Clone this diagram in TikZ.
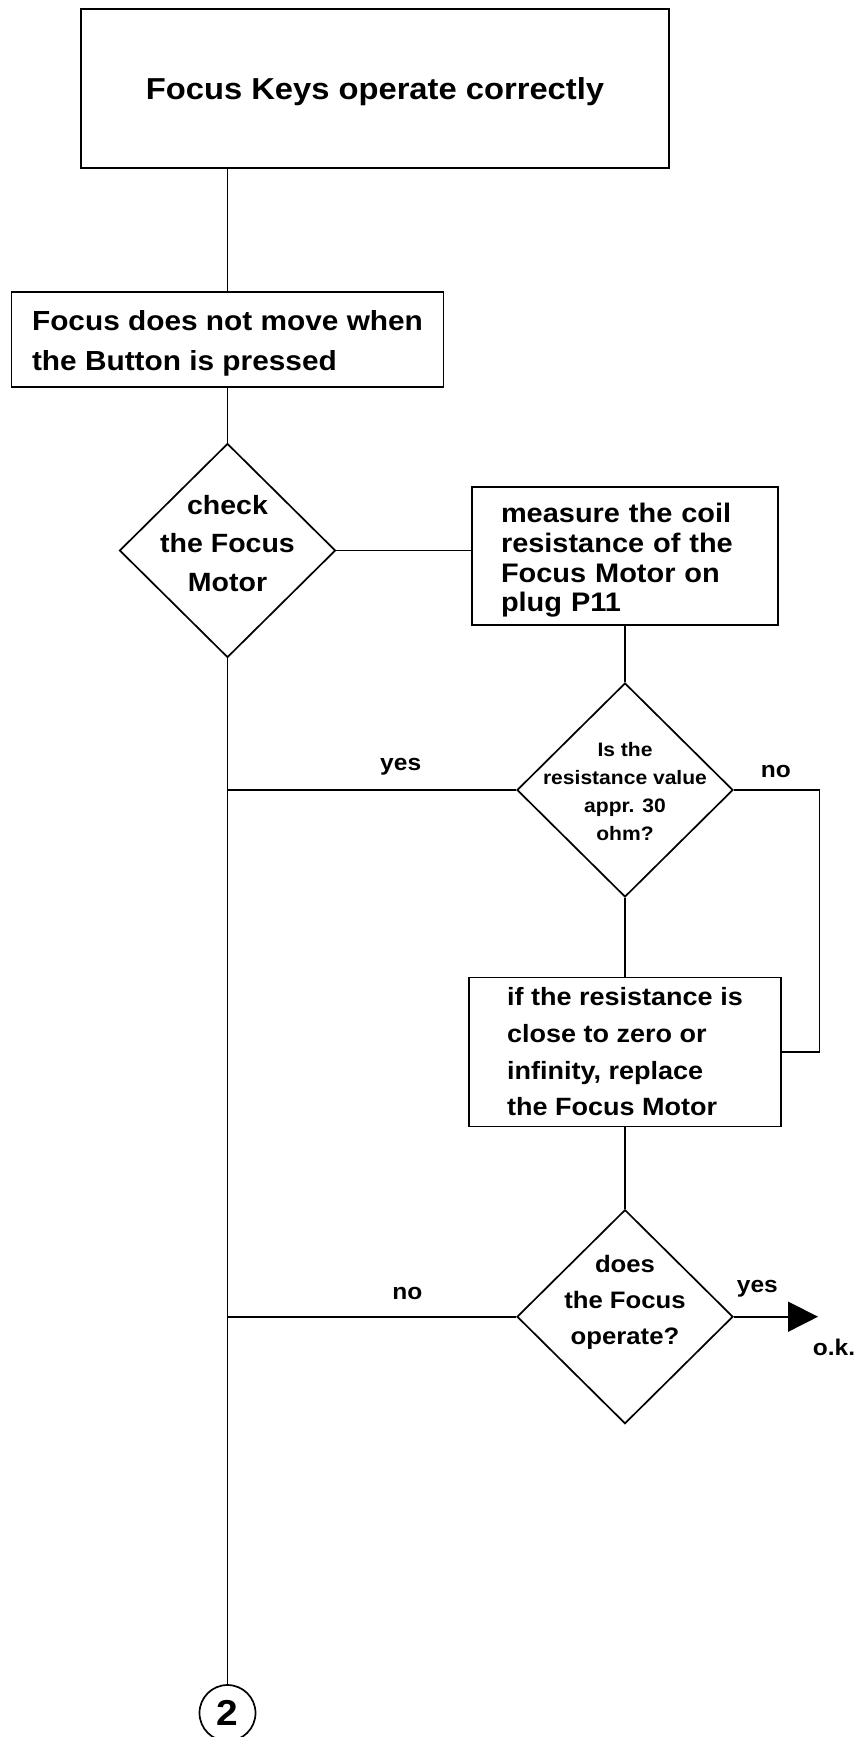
\documentclass[tikz,border=0pt]{standalone}
\usepackage{fontspec}
\newfontfamily\chartfont{Liberation Sans}[FakeStretch=1.08]
\newcommand\fcsize[2]{\chartfont\bfseries\fontsize{#1}{#2}\selectfont}
\usetikzlibrary{shapes.geometric, arrows.meta, positioning}

\begin{document}
\begin{tikzpicture}[x=1pt,y=-1pt]

\tikzstyle{block}=[rectangle,draw,line width=1.7pt,align=left,inner sep=0pt]
\tikzstyle{decision}=[diamond,draw,line width=1.7pt,minimum width=216pt,minimum height=214pt,inner sep=0pt]
\tikzstyle{dtext}=[align=center,inner sep=0pt]
\tikzstyle{line}=[draw,line width=1.6pt]
\tikzstyle{lbl}=[font=\fcsize{22.7}{27},inner sep=0pt,anchor=base]

\useasboundingbox (0,0) rectangle (862,1737);

\node (keys) [block,minimum width=588pt,minimum height=159pt,font=\fcsize{30.3}{36}] at (375,88.5) {\rule{0pt}{29pt}Focus Keys operate correctly};
\node (nomove) [block,minimum width=432pt,minimum height=95pt,font=\fcsize{27.6}{39.5}] at (227.5,339.5) {\rule{0pt}{28pt}Focus does not move when\\the Button is pressed};

\node (motor) [decision] at (227.5,550.5) {};
\node (motortxt) [dtext,font=\fcsize{26.4}{38.5},yshift=7pt] at (motor) {check\\the Focus\\Motor};

\node (coil) [block,minimum height=138pt,text width=248pt,inner xsep=29pt,font=\fcsize{26.8}{29.8}] at (625,556) {\rule{0pt}{28pt}measure the coil\\resistance of the\\Focus Motor on\\plug P11};

\node (ohm) [decision] at (625,790) {};
\node (ohmtxt) [dtext,font=\fcsize{19.5}{28},yshift=-2pt] at (ohm) {Is the\\resistance value\\appr. 30\\ohm?};

\node (replace) [block,minimum width=312pt,minimum height=149pt,font=\fcsize{25}{36.7}] at (625,1052) {if the resistance is\\close to zero or\\infinity, replace\\the Focus Motor};

\node (operate) [decision] at (625,1316.7) {};
\node (operatetxt) [dtext,font=\fcsize{23.8}{36},yshift=14pt] at (operate) {does\\the Focus\\operate?};

\node (two) [circle,draw,line width=1.7pt,minimum size=56pt,inner sep=0pt,font=\fcsize{36}{42}] at (227.5,1713) {2};

\coordinate (noturn) at (819.5,790);
\coordinate (okend) at (818,1316.7);
\node (ok) [lbl] at (834,1355) {o.k.};

\draw[line] (keys.south -| nomove.north) -- (nomove.north);
\draw[line] (nomove) -- (motor);
\draw[line] (motor.east) -- (motor.east -| coil.west);
\draw[line] (coil) -- (ohm);
\draw[line] (ohm.west) -- node[lbl,pos=0.40,yshift=20pt]{yes} (ohm.west -| motor.south);
\draw[line] (ohm.east) -- node[lbl,pos=0.49,yshift=13pt]{no} (noturn) |- (replace.east);
\draw[line] (ohm) -- (replace);
\draw[line] (replace) -- (operate);
\draw[line] (operate.west) -- node[lbl,pos=0.377,yshift=17pt]{no} (operate.west -| motor.south);
\draw[line,-{Triangle[length=30pt,width=30pt]}] (operate.east) -- node[lbl,pos=0.28,yshift=24pt]{yes} (okend);
\draw[line] (motor) -- (two);

\end{tikzpicture}
\end{document}
